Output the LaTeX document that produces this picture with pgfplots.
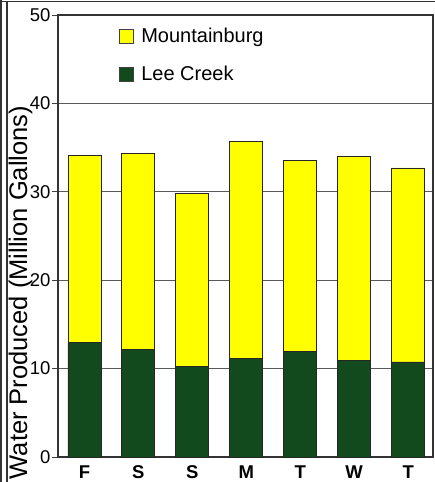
\documentclass[border=0pt]{standalone}
\usepackage{fontspec}
\setmainfont{Liberation Sans}
\usepackage{pgfplots}
\pgfplotsset{compat=1.18}
\definecolor{leegreen}{RGB}{18,74,30}
\definecolor{mtyellow}{RGB}{255,255,0}
\begin{document}
\begin{tikzpicture}
\path[use as bounding box, clip] (-58pt,-25pt) rectangle (377pt,457pt);
\begin{axis}[
    at={(0,0)}, anchor=south west,
    scale only axis,
    width=375pt, height=442pt,
    ybar stacked,
    bar width=33pt,
    xmin=-0.49, xmax=6.46,
    ymin=0, ymax=50,
    ytick={0,10,20,30,40,50},
    xtick={0,1,2,3,4,5,6},
    xticklabels={F,S,S,M,T,W,T},
    xtick style={draw=none},
    ytick pos=left,
    tick align=outside,
    major tick length=6pt,
    ytick style={line width=1pt, black!75},
    axis line style={line width=1.2pt, black!80},
    ymajorgrids,
    grid style={line width=1pt, black!65},
    /pgf/number format/assume math mode=true,
    yticklabel style={font=\fontsize{18.5}{18.5}\selectfont, xshift=2pt},
    xticklabel style={font=\bfseries\fontsize{18.5}{18.5}\selectfont, yshift=1pt},
    ylabel={Water Produced (Million Gallons)},
    ylabel style={font=\fontsize{25.5}{25.5}\selectfont, at={(axis description cs:-0.1,0.372)}, anchor=center},
    reverse legend,
    legend style={draw=none, fill=none, at={(axis description cs:0.155,0.98)}, anchor=north west,
        font=\fontsize{20}{20}\selectfont, row sep=18pt, column sep=5pt,
        nodes={inner sep=2pt}},
    legend image code/.code={\draw[#1, draw=black!75, line width=1pt] (0pt,-7pt) rectangle (14pt,7pt);},
    legend cell align=left,
]
\addplot[fill=leegreen, draw=black!85, line width=0.8pt] coordinates {
    (0,12.95) (1,12.15) (2,10.25) (3,11.1) (4,11.9) (5,10.9) (6,10.75)};
\addplot[fill=mtyellow, draw=black!85, line width=0.8pt] coordinates {
    (0,21.15) (1,22.2) (2,19.6) (3,24.6) (4,21.6) (5,23.1) (6,21.95)};
\legend{Lee Creek, Mountainburg}
\end{axis}
\draw[line width=1.6pt, black!80] (-57pt,-25pt) -- (-57pt,457pt);
\draw[line width=1.6pt, black!80] (-51pt,-25pt) -- (-51pt,455pt);
\draw[line width=1.8pt, black!80] (-58pt,455.5pt) -- (377pt,455.5pt);
\end{tikzpicture}
\end{document}
